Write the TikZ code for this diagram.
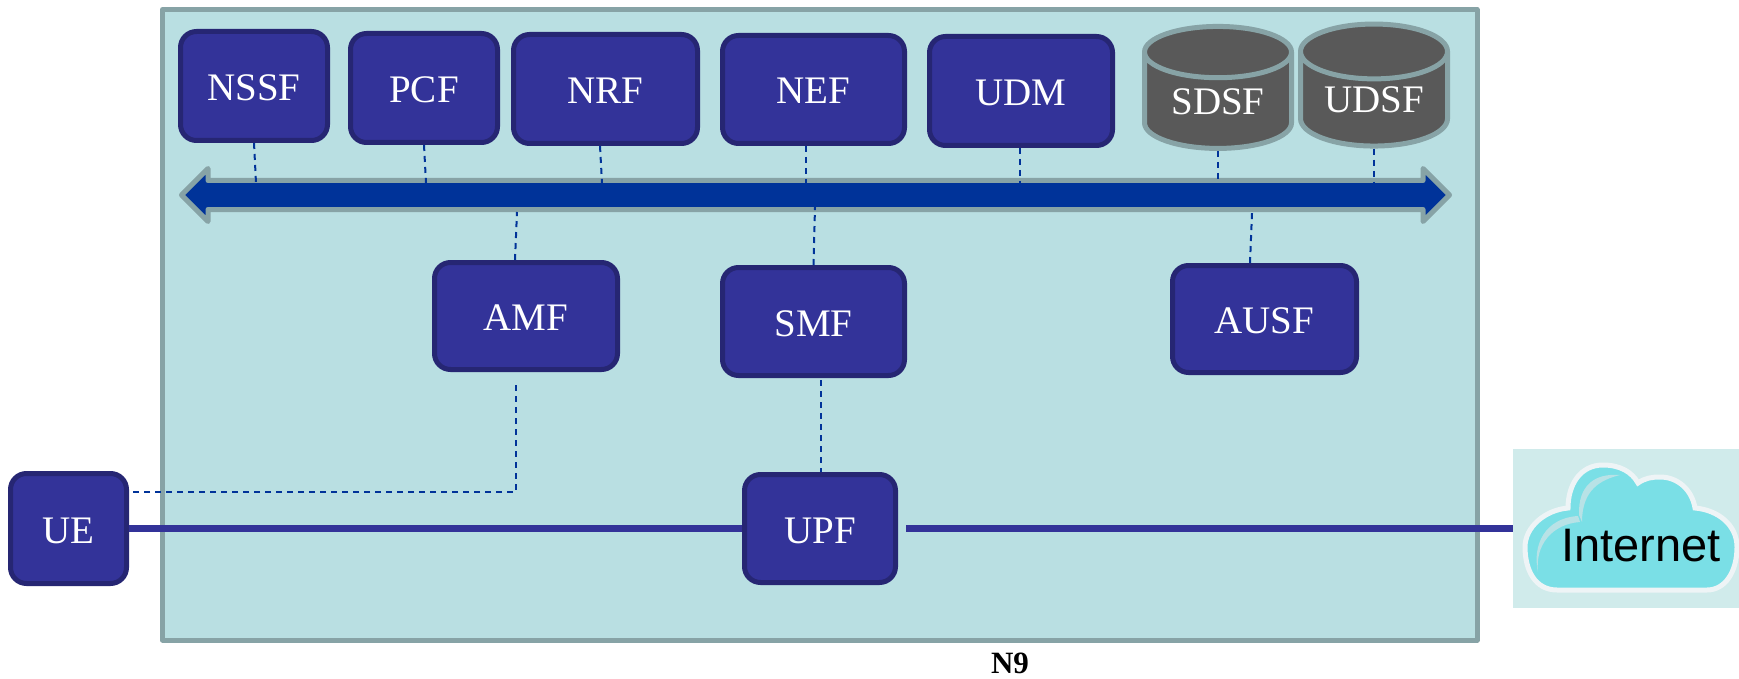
\documentclass[tikz,border=0pt]{standalone}
\usepackage{fontspec}
\setmainfont{Liberation Serif}
\newfontfamily\cloudfont{Liberation Sans}
\usetikzlibrary{shapes.geometric,shapes.arrows}
\definecolor{nfblue}{HTML}{333399}
\definecolor{nfedge}{HTML}{262673}
\definecolor{corefill}{HTML}{B9DFE2}
\definecolor{coreedge}{HTML}{87A3A6}
\definecolor{busblue}{HTML}{003399}
\definecolor{storefill}{HTML}{595959}
\definecolor{skyfill}{HTML}{D0EBEB}
\definecolor{cloudfill}{HTML}{7ADFE6}
\definecolor{cloudedge}{HTML}{EEF4F6}
\definecolor{cloudglow}{HTML}{B8E2E6}
\tikzset{
  nfbox/.style={draw=nfedge,fill=nfblue,line width=5pt,rounded corners=16pt,text=white,
    inner sep=0pt,text height=30pt,text depth=1pt,font=\fontsize{39}{45}\selectfont},
  storebox/.style={cylinder,shape border rotate=90,aspect=0.55,draw=coreedge,fill=storefill,
    line width=5pt,text=white,inner sep=0pt,minimum width=147pt,minimum height=122pt,
    font=\fontsize{39}{45}\selectfont},
  sbi/.style={draw=busblue,line width=2pt,dash pattern=on 6pt off 5pt},
  userplane/.style={draw=nfblue,line width=7pt}
}
\begin{document}
\begin{tikzpicture}[x=1pt,y=-1pt]
\useasboundingbox (0,0) rectangle (1739,679);
\path [fill=corefill, draw=coreedge, line width=5pt, line join=round] (162.5,9.5) rectangle (1477,640);
% network functions
\foreach \name/\txt/\cx/\cy/\bw/\bh in {
  nssf/NSSF/254/86/147/109, pcf/PCF/424/88/147/109, nrf/NRF/605.5/89/184/109,
  nef/NEF/813.5/89.5/182/108, udm/UDM/1021/91/183/109, amf/AMF/526/316/183/107,
  smf/SMF/813.5/321.5/182/108, ausf/AUSF/1264.5/319/184/107,
  upf/UPF/820/528.5/151/108, ue/UE/68.5/528.5/116/110}{
  \node [nfbox, minimum width=\bw pt, minimum height=\bh pt] (\name) at (\cx,\cy) {\txt};
}
\node [storebox] (sdsf) at (1218,101.5) {SDSF};
\node [storebox] (udsf) at (1374,100) {UDSF};
% bus
\node [double arrow, draw=coreedge, fill=busblue, line width=5pt, line join=round, inner sep=12pt,
  minimum height=1268pt, minimum width=50pt, double arrow head extend=12pt,
  double arrow tip angle=90] (bus) at (815.5,195) {};
\foreach \name/\sx/\bx in {nssf/0/256, pcf/0/426, nrf/-5.5/602, nef/-7.5/806, udm/-1/1020, sdsf/0/1218, udsf/0/1374}{
  \coordinate (tap\name) at (\bx,183);
  \draw [sbi] ([xshift=\sx pt]\name.south) -- (tap\name);
}
\foreach \name/\sx/\bx/\by in {amf/-11/517/212, smf/0/815/207, ausf/-14.5/1252/213}{
  \coordinate (tap\name) at (\bx,\by);
  \draw [sbi] ([xshift=\sx pt]\name.north) -- (tap\name);
}
\coordinate (amfdrop) at (516,385);
\coordinate (smfdrop) at (821,380);
\coordinate (ueport) at (128,492);
\draw [sbi] (amfdrop) |- (ueport);
\draw [sbi] (smfdrop) -- (smfdrop |- upf.north);
% internet
\node [fill=skyfill, minimum width=226pt, minimum height=159pt, inner sep=0pt] (inet) at (1626,528.5) {};
\path [fill=cloudfill, draw=cloudedge, line width=5pt]
  (1557,590) .. controls (1535,590) and (1525,570) .. (1525,547)
  .. controls (1525,527) and (1545,510) .. (1568,508)
  .. controls (1568,485) and (1580,465) .. (1603,465)
  .. controls (1620,465) and (1632,472) .. (1638,483)
  .. controls (1645,478) and (1652,477) .. (1660,477)
  .. controls (1678,477) and (1692,490) .. (1695,508)
  .. controls (1718,510) and (1737,525) .. (1737,547)
  .. controls (1737,572) and (1725,590) .. (1707,590) -- cycle;
\path [fill=cloudglow] (1538,572) .. controls (1532,545) and (1545,518) .. (1578,516)
  -- (1580,522) .. controls (1552,524) and (1535,545) .. (1538,572) -- cycle;
\path [fill=cloudglow] (1579,515) .. controls (1578,485) and (1595,473) .. (1620,475)
  .. controls (1600,480) and (1582,490) .. (1582,522) -- cycle;
\node [font=\cloudfont\fontsize{47}{50}\selectfont, text=black, inner sep=0pt] (inettxt) at (1641,546) {Internet};
\draw [userplane] (ue.east) -- (upf.west);
\draw [userplane] ([xshift=8pt]upf.east) -- (inet.west);
\node [font=\bfseries\fontsize{31}{34}\selectfont, inner sep=0pt] (nine) at (1010,663) {N9};
\end{tikzpicture}
\end{document}
